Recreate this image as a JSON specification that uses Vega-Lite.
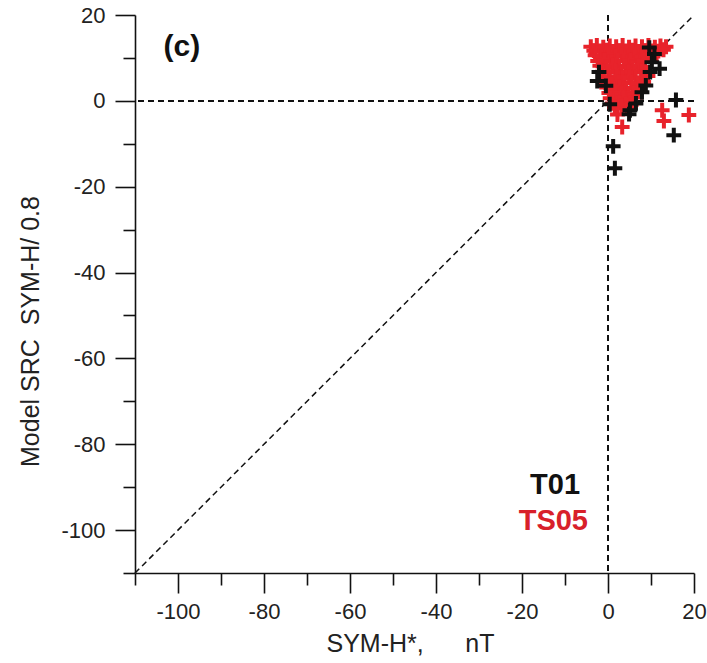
{
  "$schema": "https://vega.github.io/schema/vega-lite/v6.json",
  "width": 559,
  "height": 558,
  "autosize": "none",
  "padding": {"left": 135, "top": 15, "right": 13, "bottom": 90},
  "background": "white",
  "config": {
    "view": {"stroke": null},
    "font": "Liberation Sans, Arial, sans-serif",
    "axis": {
      "grid": false,
      "domainColor": "#111",
      "domainWidth": 1.6,
      "tickColor": "#111",
      "tickWidth": 1.6,
      "labelFont": "Liberation Sans, Arial, sans-serif",
      "labelFontSize": 22,
      "labelColor": "#222",
      "labelFlush": false,
      "labelOverlap": false,
      "labelBound": false,
      "titleFont": "Liberation Sans, Arial, sans-serif",
      "titleFontSize": 25,
      "titleFontWeight": "normal",
      "titleColor": "#222"
    }
  },
  "datasets": {
    "points": [
      {"model": "TS05", "symh": -4.0, "src": 12.6},
      {"model": "TS05", "symh": -2.6, "src": 12.9},
      {"model": "TS05", "symh": -1.1, "src": 12.5},
      {"model": "TS05", "symh": 0.4, "src": 12.8},
      {"model": "TS05", "symh": 1.9, "src": 12.6},
      {"model": "TS05", "symh": 3.4, "src": 12.9},
      {"model": "TS05", "symh": 4.9, "src": 12.5},
      {"model": "TS05", "symh": 6.4, "src": 12.8},
      {"model": "TS05", "symh": 7.9, "src": 12.6},
      {"model": "TS05", "symh": 9.4, "src": 12.9},
      {"model": "TS05", "symh": 10.9, "src": 12.5},
      {"model": "TS05", "symh": 12.2, "src": 12.8},
      {"model": "TS05", "symh": 13.5, "src": 12.6},
      {"model": "TS05", "symh": -3.3, "src": 11.7},
      {"model": "TS05", "symh": -1.8, "src": 11.5},
      {"model": "TS05", "symh": -0.3, "src": 11.8},
      {"model": "TS05", "symh": 1.2, "src": 11.4},
      {"model": "TS05", "symh": 2.7, "src": 11.7},
      {"model": "TS05", "symh": 4.2, "src": 11.5},
      {"model": "TS05", "symh": 5.7, "src": 11.8},
      {"model": "TS05", "symh": 7.2, "src": 11.4},
      {"model": "TS05", "symh": 8.7, "src": 11.7},
      {"model": "TS05", "symh": 10.2, "src": 11.5},
      {"model": "TS05", "symh": 11.7, "src": 11.6},
      {"model": "TS05", "symh": 12.9, "src": 11.9},
      {"model": "TS05", "symh": -3.0, "src": 10.6},
      {"model": "TS05", "symh": -1.6, "src": 10.2},
      {"model": "TS05", "symh": 0.1, "src": 10.8},
      {"model": "TS05", "symh": 1.7, "src": 10.4},
      {"model": "TS05", "symh": 3.2, "src": 10.7},
      {"model": "TS05", "symh": 4.7, "src": 10.3},
      {"model": "TS05", "symh": 6.2, "src": 10.6},
      {"model": "TS05", "symh": 7.7, "src": 10.2},
      {"model": "TS05", "symh": 9.3, "src": 10.5},
      {"model": "TS05", "symh": 11.3, "src": 10.8},
      {"model": "TS05", "symh": -2.4, "src": 9.3},
      {"model": "TS05", "symh": -0.9, "src": 9.5},
      {"model": "TS05", "symh": 0.7, "src": 9.1},
      {"model": "TS05", "symh": 2.2, "src": 9.4},
      {"model": "TS05", "symh": 3.7, "src": 9.2},
      {"model": "TS05", "symh": 5.2, "src": 9.5},
      {"model": "TS05", "symh": 6.7, "src": 9.1},
      {"model": "TS05", "symh": 8.2, "src": 9.4},
      {"model": "TS05", "symh": -1.9, "src": 8.2},
      {"model": "TS05", "symh": -0.4, "src": 7.8},
      {"model": "TS05", "symh": 1.1, "src": 8.3},
      {"model": "TS05", "symh": 2.6, "src": 7.9},
      {"model": "TS05", "symh": 4.1, "src": 8.1},
      {"model": "TS05", "symh": 5.6, "src": 7.7},
      {"model": "TS05", "symh": 7.1, "src": 8.2},
      {"model": "TS05", "symh": 8.6, "src": 7.9},
      {"model": "TS05", "symh": -1.3, "src": 6.8},
      {"model": "TS05", "symh": 0.2, "src": 6.6},
      {"model": "TS05", "symh": 1.7, "src": 6.9},
      {"model": "TS05", "symh": 3.2, "src": 6.5},
      {"model": "TS05", "symh": 4.7, "src": 6.8},
      {"model": "TS05", "symh": 6.2, "src": 6.6},
      {"model": "TS05", "symh": 7.7, "src": 6.9},
      {"model": "TS05", "symh": -1.0, "src": 5.6},
      {"model": "TS05", "symh": 0.4, "src": 5.2},
      {"model": "TS05", "symh": 1.9, "src": 5.7},
      {"model": "TS05", "symh": 3.4, "src": 5.3},
      {"model": "TS05", "symh": 4.9, "src": 5.6},
      {"model": "TS05", "symh": 6.4, "src": 5.2},
      {"model": "TS05", "symh": 7.9, "src": 5.5},
      {"model": "TS05", "symh": 9.3, "src": 5.8},
      {"model": "TS05", "symh": -0.6, "src": 4.3},
      {"model": "TS05", "symh": 0.9, "src": 4.0},
      {"model": "TS05", "symh": 2.4, "src": 4.4},
      {"model": "TS05", "symh": 3.9, "src": 4.1},
      {"model": "TS05", "symh": 5.4, "src": 4.3},
      {"model": "TS05", "symh": 6.9, "src": 4.0},
      {"model": "TS05", "symh": 8.3, "src": 4.4},
      {"model": "TS05", "symh": -0.3, "src": 3.1},
      {"model": "TS05", "symh": 1.2, "src": 2.7},
      {"model": "TS05", "symh": 2.7, "src": 3.2},
      {"model": "TS05", "symh": 4.2, "src": 2.8},
      {"model": "TS05", "symh": 5.7, "src": 3.0},
      {"model": "TS05", "symh": 7.2, "src": 2.6},
      {"model": "TS05", "symh": 0.2, "src": 1.8},
      {"model": "TS05", "symh": 1.7, "src": 1.5},
      {"model": "TS05", "symh": 3.2, "src": 1.9},
      {"model": "TS05", "symh": 4.7, "src": 1.6},
      {"model": "TS05", "symh": 6.0, "src": 1.9},
      {"model": "TS05", "symh": 0.5, "src": 0.6},
      {"model": "TS05", "symh": 2.0, "src": 0.2},
      {"model": "TS05", "symh": 3.5, "src": 0.7},
      {"model": "TS05", "symh": 5.0, "src": 0.3},
      {"model": "TS05", "symh": 6.4, "src": 0.8},
      {"model": "TS05", "symh": 1.0, "src": -0.6},
      {"model": "TS05", "symh": 2.6, "src": -0.4},
      {"model": "TS05", "symh": 4.0, "src": -0.7},
      {"model": "TS05", "symh": 5.4, "src": -0.9},
      {"model": "TS05", "symh": 1.6, "src": -1.5},
      {"model": "TS05", "symh": 3.1, "src": -1.2},
      {"model": "TS05", "symh": 4.4, "src": -1.8},
      {"model": "TS05", "symh": 2.2, "src": -3.2},
      {"model": "TS05", "symh": 3.3, "src": -6.1},
      {"model": "TS05", "symh": 13.0, "src": -4.7},
      {"model": "TS05", "symh": 12.6, "src": -2.2},
      {"model": "TS05", "symh": 18.8, "src": -3.3},
      {"model": "T01", "symh": -2.1, "src": 6.7},
      {"model": "T01", "symh": -2.5, "src": 4.6},
      {"model": "T01", "symh": -0.5, "src": 3.5},
      {"model": "T01", "symh": 10.2, "src": 9.0},
      {"model": "T01", "symh": 9.8, "src": 6.7},
      {"model": "T01", "symh": 12.0, "src": 7.5},
      {"model": "T01", "symh": 10.8, "src": 10.9},
      {"model": "T01", "symh": 9.6, "src": 12.4},
      {"model": "T01", "symh": 7.9, "src": 2.0},
      {"model": "T01", "symh": 8.8, "src": 3.6},
      {"model": "T01", "symh": 6.5, "src": -0.6},
      {"model": "T01", "symh": 5.1, "src": -2.2},
      {"model": "T01", "symh": 4.9, "src": -3.1},
      {"model": "T01", "symh": 0.4, "src": -0.8},
      {"model": "T01", "symh": 15.8, "src": 0.2},
      {"model": "T01", "symh": 15.3, "src": -8.0},
      {"model": "T01", "symh": 1.2, "src": -10.6},
      {"model": "T01", "symh": 1.6, "src": -15.7}
    ],
    "diagonal": [
      {"symh": -110, "src": -110},
      {"symh": 20, "src": 20}
    ]
  },
  "layer": [
    {
      "data": {"name": "points"},
      "mark": {"type": "rule"},
      "encoding": {
        "y": {
          "datum": 0,
          "type": "quantitative",
          "scale": {"domain": [-110, 20], "nice": false, "zero": false},
          "axis": {
            "values": [20, 10, 0, -10, -20, -30, -40, -50, -60, -70, -80, -90, -100, -110],
            "labelExpr": "datum.value % 20 === 0 ? '' + datum.value : ''",
            "tickSize": {"condition": {"test": "datum.value % 20 === 0", "value": 20}, "value": 12},
            "labelPadding": 10,
            "title": "Model SRC\u00a0\u00a0SYM-H/ 0.8",
            "titleAngle": -90,
            "titleX": -97,
            "titleY": 316,
            "titleAlign": "center",
            "titleBaseline": "alphabetic"
          }
        },
        "color": {"value": "#111"},
        "strokeDash": {"value": [6, 4]},
        "strokeWidth": {"value": 1.5}
      }
    },
    {
      "data": {"name": "points"},
      "mark": {"type": "rule"},
      "encoding": {
        "x": {
          "datum": 0,
          "type": "quantitative",
          "scale": {"domain": [-110, 20], "nice": false, "zero": false},
          "axis": {
            "values": [-110, -100, -90, -80, -70, -60, -50, -40, -30, -20, -10, 0, 10, 20],
            "labelExpr": "datum.value % 20 === 0 ? '' + datum.value : ''",
            "tickSize": {"condition": {"test": "datum.value % 20 === 0", "value": 20}, "value": 12},
            "labelPadding": 8,
            "title": "SYM-H*,\u00a0\u00a0\u00a0\u00a0\u00a0\u00a0nT",
            "titleX": 275,
            "titleY": 78,
            "titleAlign": "center",
            "titleBaseline": "alphabetic"
          }
        },
        "color": {"value": "#111"},
        "strokeDash": {"value": [6, 4]},
        "strokeWidth": {"value": 1.5}
      }
    },
    {
      "data": {"name": "diagonal"},
      "mark": {"type": "line", "color": "#111", "strokeDash": [6, 4], "strokeWidth": 1.5},
      "encoding": {
        "x": {"field": "symh", "type": "quantitative"},
        "y": {"field": "src", "type": "quantitative"}
      }
    },
    {
      "data": {"name": "points"},
      "mark": {
        "type": "point",
        "shape": "M-1,0H1M0,-1V1",
        "filled": false,
        "strokeWidth": 4,
        "size": 220,
        "opacity": 1
      },
      "encoding": {
        "x": {"field": "symh", "type": "quantitative"},
        "y": {"field": "src", "type": "quantitative"},
        "color": {
          "field": "model",
          "type": "nominal",
          "scale": {"domain": ["T01", "TS05"], "range": ["#111111", "#e8232b"]},
          "legend": null
        }
      }
    },
    {
      "data": {"values": [{}]},
      "mark": {"type": "text", "text": "(c)", "fontSize": 30, "fontWeight": "bold", "align": "center", "baseline": "middle", "color": "#111"},
      "encoding": {
        "x": {"datum": -99.1, "type": "quantitative"},
        "y": {"datum": 12.5, "type": "quantitative"}
      }
    },
    {
      "data": {"values": [{}]},
      "mark": {"type": "text", "text": "T01", "fontSize": 29, "fontWeight": "bold", "align": "right", "baseline": "middle", "color": "#111"},
      "encoding": {
        "x": {"datum": -6.5, "type": "quantitative"},
        "y": {"datum": -89.6, "type": "quantitative"}
      }
    },
    {
      "data": {"values": [{}]},
      "mark": {"type": "text", "text": "TS05", "fontSize": 29, "fontWeight": "bold", "align": "right", "baseline": "middle", "color": "#d8202a"},
      "encoding": {
        "x": {"datum": -4.65, "type": "quantitative"},
        "y": {"datum": -97.9, "type": "quantitative"}
      }
    }
  ]
}
